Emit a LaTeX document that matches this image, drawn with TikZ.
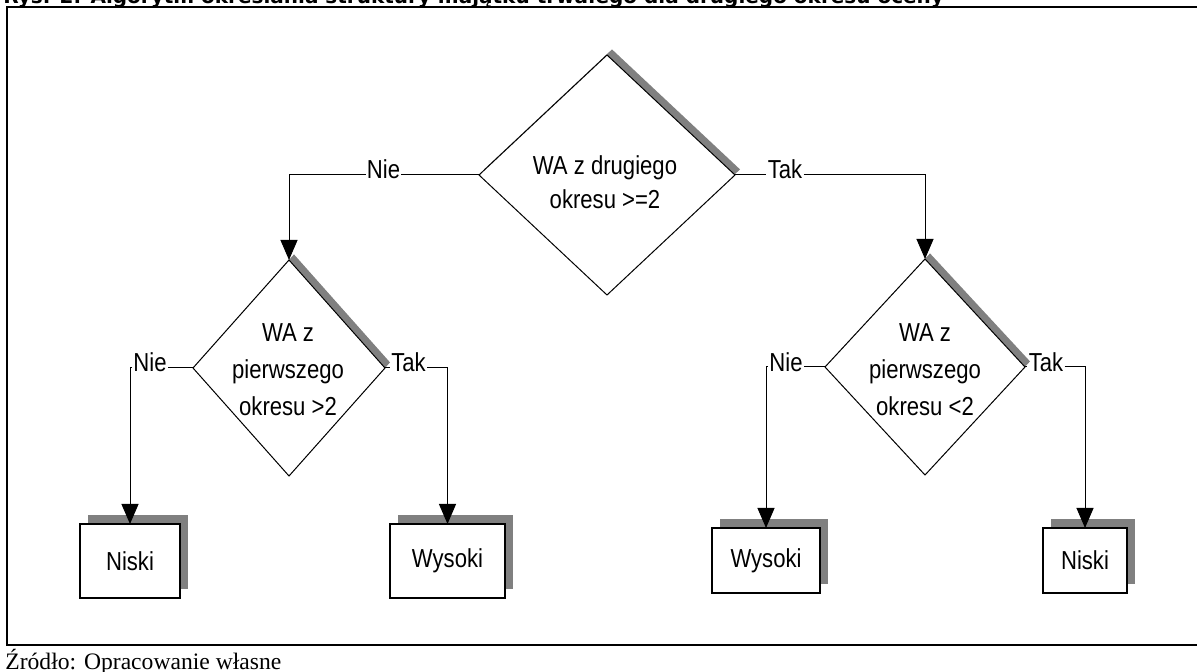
\documentclass[tikz,border=0pt]{standalone}
\usepackage{fontspec}
\setmainfont{Liberation Serif}
\newfontfamily\diafont[FakeStretch=0.85]{Liberation Sans}
\newfontfamily\titlefont{DejaVu Sans}
\usetikzlibrary{arrows.meta, shapes.geometric, shadows, positioning}

\begin{document}
\begin{tikzpicture}[
    x=0.5pt, y=-0.5pt,
    >={Triangle[length=10pt, width=8.5pt]},
    dec/.style ={diamond, draw, line width=0.5pt, fill=white, inner sep=0pt,
                 outer sep=0pt,
                 drop shadow={shadow xshift=2.5pt, shadow yshift=2.8pt,
                              fill=gray, opacity=1}},
    dtxt/.style={align=center, inner sep=0pt,
                 font=\diafont\fontsize{13}{18.5}\selectfont},
    res/.style ={rectangle, draw, line width=0.6pt, fill=white, outer sep=0pt,
                 font=\diafont\fontsize{13}{16}\selectfont,
                 drop shadow={shadow xshift=4pt, shadow yshift=4.5pt,
                              fill=gray, opacity=1}},
    lbl/.style ={anchor=base, inner xsep=0.5pt, inner ysep=0pt,
                 font=\diafont\fontsize{13}{16}\selectfont},
    flow/.style={line width=0.5pt},
]
\useasboundingbox (0,0) rectangle (1197,672);
% title (cut by the page edge) and frame
\node[anchor=base west, inner sep=0pt,
      font=\titlefont\bfseries\fontsize{10}{12}\selectfont] (title) at (3,4)
   {Rys. 2. Algorytm określania struktury majątku trwałego dla drugiego okresu oceny};
\draw[line width=1pt] (1197,7) -- (7,7) -- (7,645) -- (1197,645);
\node[anchor=base west, inner sep=0pt, font=\fontsize{11.8}{13}\selectfont]
   (src) at (5,669) {Źródło: Opracowanie własne};
% decisions
\node[dec, minimum width=128pt, minimum height=120pt] (d0) at (607,175) {};
\node[dtxt, font=\diafont\fontsize{13}{17}\selectfont] (t0) at (605,182)
   {WA z drugiego\\okresu >=2};
\node[dec, minimum width=96pt, minimum height=108pt] (dl) at (289,368) {};
\node[dtxt] (tl) at (288,370) {WA z\\pierwszego\\okresu >2};
\node[dec, minimum width=100pt, minimum height=108pt] (dr) at (925,367) {};
\node[dtxt] (tr) at (925,370) {WA z\\pierwszego\\okresu <2};
% results
\node[res, minimum width=50pt, minimum height=37pt] (r1) at (130,561) {Niski};
\node[res, minimum width=57.5pt, minimum height=37pt] (r2) at (447.5,561) {Wysoki};
\node[res, minimum width=54pt, minimum height=32.5pt] (r3) at (766,560.5) {Wysoki};
\node[res, minimum width=42pt, minimum height=32.5pt] (r4) at (1085,560.5) {Niski};
% branch labels
\node[lbl] (nie0) at (383.5,179) {Nie};
\node[lbl] (tak0) at (785,179) {Tak};
\node[lbl] (nie1) at (150,372) {Nie};
\node[lbl] (tak1) at (408.5,372) {Tak};
\node[lbl] (nie2) at (786,372) {Nie};
\node[lbl] (tak2) at (1046,372) {Tak};
% connectors
\draw[flow] (d0.west) -- (d0.west -| nie0.east);
\draw[flow, ->] (d0.west -| nie0.west) -- (d0.west -| dl.north) -- (dl.north);
\draw[flow] (d0.east) -- (d0.east -| tak0.west);
\draw[flow, ->] (d0.east -| tak0.east) -- (d0.east -| dr.north) -- (dr.north);
\draw[flow] (dl.west) -- (dl.west -| nie1.east);
\draw[flow, ->] (dl.west -| nie1.west) -- (dl.west -| r1.north) -- (r1.north);
\draw[flow] (dl.east) -- (dl.east -| tak1.west);
\draw[flow, ->] (dl.east -| tak1.east) -- (dl.east -| r2.north) -- (r2.north);
\draw[flow] (dr.west) -- (dr.west -| nie2.east);
\draw[flow, ->] (dr.west -| nie2.west) -- (dr.west -| r3.north) -- (r3.north);
\draw[flow] (dr.east) -- (dr.east -| tak2.west);
\draw[flow, ->] (dr.east -| tak2.east) -- (dr.east -| r4.north) -- (r4.north);
\end{tikzpicture}
\end{document}
